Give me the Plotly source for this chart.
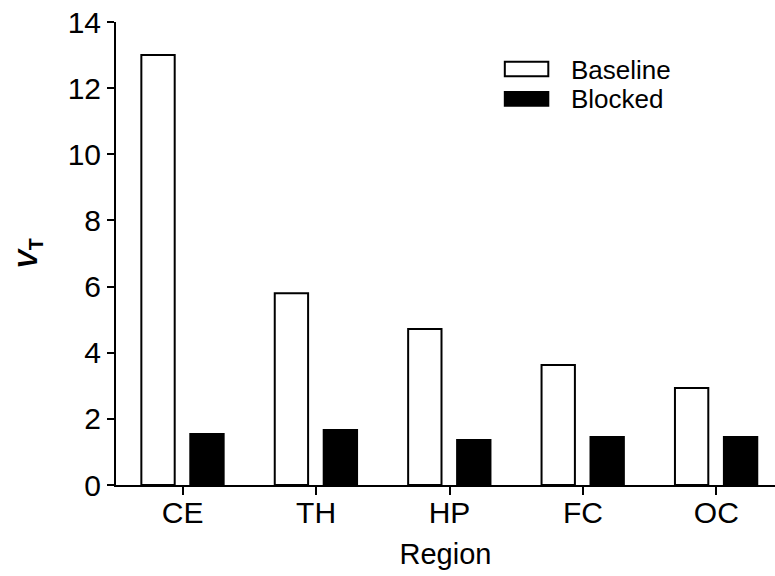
import plotly.graph_objects as go

regions = ["CE", "TH", "HP", "FC", "OC"]
baseline = [13.0, 5.8, 4.72, 3.63, 2.93]
blocked = [1.54, 1.66, 1.36, 1.45, 1.45]
series_names = ["Baseline", "Blocked"]
series_fill = ["white", "black"]

FONT = "Liberation Sans, Arial, sans-serif"

fig = go.Figure()
fig.add_trace(go.Bar(
    x=regions, y=baseline, name=series_names[0],
    marker=dict(color=series_fill[0], line=dict(color="black", width=2)),
    width=0.25, offset=-0.31, showlegend=False,
))
fig.add_trace(go.Bar(
    x=regions, y=blocked, name=series_names[1],
    marker=dict(color=series_fill[1], line=dict(color="black", width=2)),
    width=0.25, offset=0.057, showlegend=False,
))

# custom legend (wide rectangles like the original)
leg_rows = [(0.883, 0.914, 0.897), (0.819, 0.849, 0.833)]
for (y0, y1, yt), nm, fc in zip(leg_rows, series_names, series_fill):
    fig.add_shape(type="rect", xref="paper", yref="paper",
                  x0=0.590, x1=0.656, y0=y0, y1=y1,
                  fillcolor=fc, line=dict(color="black", width=2))
    fig.add_annotation(xref="paper", yref="paper", x=0.687, y=yt,
                       text=nm, showarrow=False, xanchor="left", yanchor="middle",
                       font=dict(size=26, family=FONT, color="black"))

fig.update_layout(
    width=775, height=576,
    margin=dict(l=116, r=0, t=22, b=91),
    plot_bgcolor="white", paper_bgcolor="white",
    barmode="overlay",
    font=dict(family=FONT, size=26, color="black"),
    showlegend=False,
    xaxis=dict(
        range=[-0.5, 4.44],
        showline=True, linecolor="black", linewidth=2,
        ticks="outside", ticklen=8, tickwidth=2, tickcolor="black",
        showgrid=False, zeroline=False,
        tickfont=dict(size=30, family=FONT),
        ticklabelstandoff=-8,
        title=dict(text="Region", font=dict(size=29, family=FONT), standoff=16),
    ),
    yaxis=dict(
        range=[0, 14], dtick=2,
        showline=True, linecolor="black", linewidth=2,
        ticks="outside", ticklen=7, tickwidth=2, tickcolor="black",
        showgrid=False, zeroline=False,
        tickfont=dict(size=30, family=FONT),
        title=dict(text="<b><i>V</i><sub>T</sub></b>", font=dict(size=28, family=FONT), standoff=22),
    ),
)

fig.write_html("out.html")
